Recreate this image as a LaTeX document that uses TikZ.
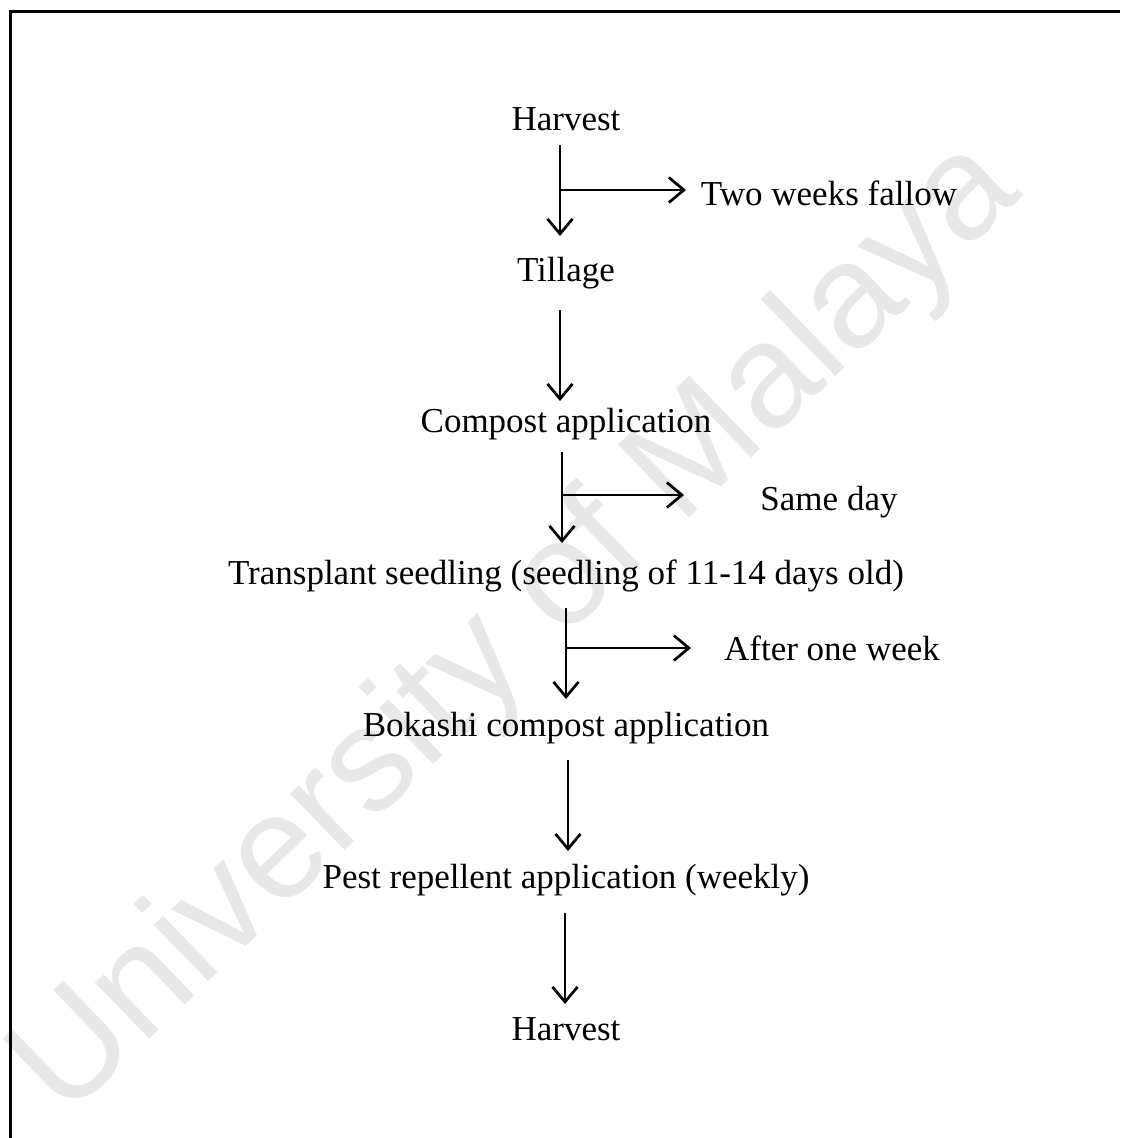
\documentclass[tikz,border=0pt]{standalone}
\usepackage{fontspec}
\setmainfont{Liberation Serif}
\newfontfamily\markfont{Liberation Sans}
\usetikzlibrary{arrows.meta}
\begin{document}
\begin{tikzpicture}[x=1pt,y=-1pt,
  label/.style={inner sep=0pt,anchor=base,font=\fontsize{35}{40}\selectfont},
  flow/.style={line width=2.7pt,-{Straight Barb[length=15pt,width=25pt,line width=2.7pt]}},
  frameline/.style={line width=3pt,black}]
\useasboundingbox (0,0) rectangle (1120,1138);
% faint diagonal watermark behind the chart
\node[rotate=44,inner sep=0pt,text=black!9,font=\markfont\fontsize{148}{148}\selectfont]
  (wm) at (518,630) {University of Malaya};
% frame (top and left edges)
\draw[frameline] (8.5,11) -- (1120,11);
\draw[frameline] (10,11) -- (10,1138);
% steps
\node[label] (h1)  at (566,130) {Harvest};
\node[label] (til) at (566,281) {Tillage};
\node[label] (cmp) at (566,432) {Compost application};
\node[label] (trn) at (566,584) {Transplant seedling (seedling of 11-14 days old)};
\node[label] (bok) at (566,736) {Bokashi compost application};
\node[label] (pst) at (566,888) {Pest repellent application (weekly)};
\node[label] (h2)  at (566,1040) {Harvest};
% side notes
\node[label] (fal) at (829,205) {Two weeks fallow};
\node[label] (sam) at (829,510) {Same day};
\node[label] (wk)  at (832,660) {After one week};
% arrow end points
\coordinate (a1) at (560,145);  \coordinate (b1) at (560,236);
\coordinate (a2) at (560,310);  \coordinate (b2) at (560,401);
\coordinate (a3) at (562,452);  \coordinate (b3) at (562,543);
\coordinate (a4) at (566,608);  \coordinate (b4) at (566,699);
\coordinate (a5) at (568,760);  \coordinate (b5) at (568,851);
\coordinate (a6) at (565,913);  \coordinate (b6) at (565,1004);
\coordinate (f1) at (686,190);
\coordinate (f3) at (684,495);
\coordinate (f4) at (691,648);
% main flow
\draw[flow] (a1) -- (b1);
\draw[flow] (a2) -- (b2);
\draw[flow] (a3) -- (b3);
\draw[flow] (a4) -- (b4);
\draw[flow] (a5) -- (b5);
\draw[flow] (a6) -- (b6);
% branches to the notes
\draw[flow] (a1 |- f1) -- (f1);
\draw[flow] (a3 |- f3) -- (f3);
\draw[flow] (a4 |- f4) -- (f4);
\end{tikzpicture}
\end{document}
